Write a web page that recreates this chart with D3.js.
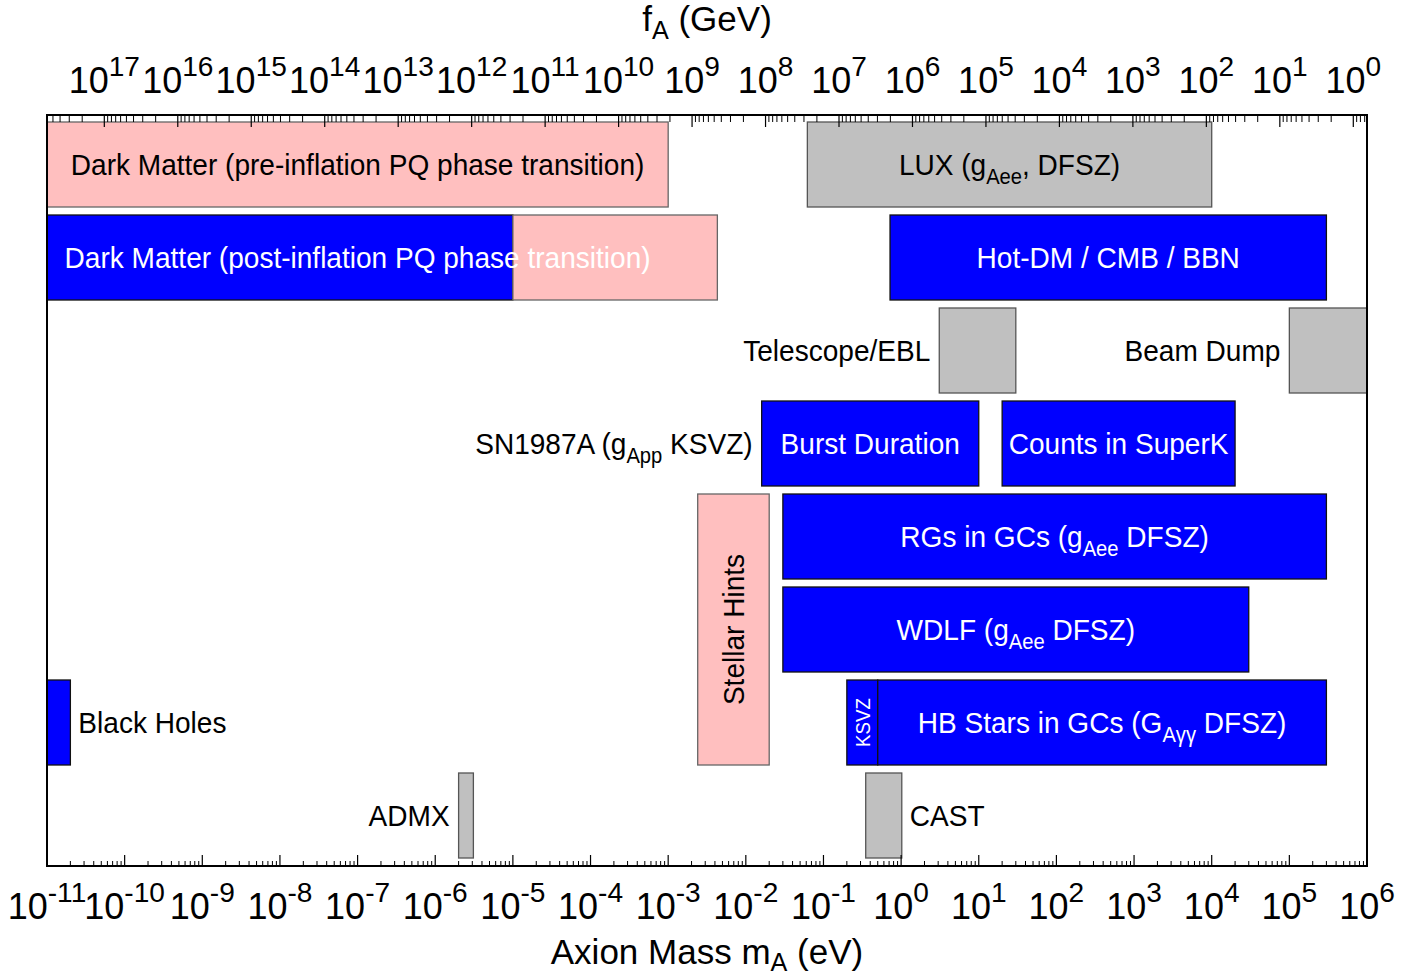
<!DOCTYPE html>
<html>
<head>
<meta charset="utf-8">
<script src="https://cdn.jsdelivr.net/npm/d3@7"></script>
<style>
  html, body { margin: 0; padding: 0; background: #fff; }
  svg { display: block; }
  text { font-family: "Liberation Sans", Arial, Helvetica, sans-serif; }
</style>
</head>
<body>
<svg id="chart" width="1427" height="977"></svg>
<script>
// ---------------- DATA ----------------
const massTickExps = [-11,-10,-9,-8,-7,-6,-5,-4,-3,-2,-1,0,1,2,3,4,5,6];
const faTickExps   = [17,16,15,14,13,12,11,10,9,8,7,6,5,4,3,2,1,0];

// bars: mass range (eV), row (0 = top), rows spanned, fill kind
const barIds   = ["dmPre","lux","dmPostBlue","dmPostPink","hotDM","telescope","beamDump","burst","superK","stellar","rgs","wdlf","blackHoles","ksvz","hbStars","admx","cast"];
const barLo    = [1e-11, 0.062, 1e-11, 1e-5, 0.72, 3.1, 1e5, 0.016, 20, 2.4e-3, 0.03, 0.03, 1e-11, 0.2, 0.5, 2.0e-6, 0.35];
const barHi    = [1e-3, 1e4, 1e-5, 4.3e-3, 3e5, 30, 1e6, 10, 2e4, 0.02, 3e5, 3e4, 2e-11, 0.5, 3e5, 3.1e-6, 1.02];
const barRow   = [0, 0, 1, 1, 1, 2, 2, 3, 3, 4, 4, 5, 6, 6, 6, 7, 7];
const barSpan  = [1, 1, 1, 1, 1, 1, 1, 1, 1, 3, 1, 1, 1, 1, 1, 1, 1];
const barKind  = ["pink","gray","blue","pink","blue","gray","gray","blue","blue","pink","blue","blue","blue","blue","blue","gray","gray"];

// labels: segments [text, "n"|"sub"], row, anchoring mode and reference bar
const labelSegs = [
  [["Dark Matter (pre-inflation PQ phase transition)","n"]],
  [["LUX (g","n"],["Aee","sub"],[", DFSZ)","n"]],
  [["Dark Matter (post-inflation PQ phase transition)","n"]],
  [["Hot-DM / CMB / BBN","n"]],
  [["Telescope/EBL","n"]],
  [["Beam Dump","n"]],
  [["SN1987A (g","n"],["App","sub"],[" KSVZ)","n"]],
  [["Burst Duration","n"]],
  [["Counts in SuperK","n"]],
  [["Stellar Hints","n"]],
  [["RGs in GCs (g","n"],["Aee","sub"],[" DFSZ)","n"]],
  [["WDLF (g","n"],["Aee","sub"],[" DFSZ)","n"]],
  [["Black Holes","n"]],
  [["KSVZ","n"]],
  [["HB Stars in GCs (G","n"],["A\u03B3\u03B3","sub"],[" DFSZ)","n"]],
  [["ADMX","n"]],
  [["CAST","n"]]
];
const labelBar  = ["dmPre","lux","dmPre","hotDM","telescope","beamDump","burst","burst","superK","stellar","rgs","wdlf","blackHoles","ksvz","hbStars","admx","cast"];
const labelRow  = [0, 0, 1, 1, 2, 2, 3, 3, 3, 5, 4, 5, 6, 6, 6, 7, 7];
const labelMode = ["center","center","center","center","before","before","before","center","center","vertical","center","center","after","verticalSmall","center","before","after"];
const labelCol  = ["black","black","white","white","black","black","black","white","white","black","white","white","black","white","white","black","black"];

// ---------------- LAYOUT ----------------
const svg = d3.select("#chart");
const L = 47, R = 1367, T = 115, B = 866;

const x = d3.scaleLog().domain([1e-11, 1e6]).range([L, R]);
const xTop = d3.scaleLog().domain([Math.pow(10,17.78), Math.pow(10,-0.1865)]).range([L, R]);
const y = d3.scaleLinear().domain([0, 8]).range([118, 862]);
const inset = 4;

const fills = { pink: "#ffbfbf", gray: "#c0c0c0", blue: "#0000ff" };
const strokes = { pink: "#666", gray: "#555", blue: "#111" };

const FONT = 30, SX = 0.935;

// ---------------- BARS ----------------
const bars = barIds.map((id, i) => ({ id, lo: barLo[i], hi: barHi[i], row: barRow[i], span: barSpan[i], kind: barKind[i] }));
const byId = {}; bars.forEach(b => byId[b.id] = b);

svg.append("g").selectAll("rect").data(bars).join("rect")
  .attr("x", d => x(d.lo))
  .attr("y", d => y(d.row) + inset)
  .attr("width", d => x(d.hi) - x(d.lo))
  .attr("height", d => y(d.row + d.span) - y(d.row) - 2 * inset)
  .attr("fill", d => fills[d.kind])
  .attr("stroke", d => strokes[d.kind])
  .attr("stroke-width", 1.3);

// ---------------- LABELS ----------------
function addSegs(t, segs, size, shift) {
  const sh = shift === undefined ? 0.28 : shift;
  segs.forEach(([s, k], j) => {
    const ts = t.append("tspan").text(s);
    if (k === "sub") { ts.attr("font-size", size * 0.72).attr("dy", size * sh); }
    else if (j > 0 && segs[j-1][1] === "sub") { ts.attr("dy", -size * sh); }
  });
}
const lg = svg.append("g");
labelSegs.forEach((segs, i) => {
  const b = byId[labelBar[i]];
  const mode = labelMode[i];
  const cy = (y(labelRow[i]) + y(labelRow[i] + 1)) / 2;
  let px, anchor = "middle", rot = 0, size = FONT;
  if (mode === "center") px = (x(b.lo) + x(b.hi)) / 2;
  else if (mode === "before") { px = x(b.lo) - 9; anchor = "end"; }
  else if (mode === "after") { px = x(b.hi) + 8; anchor = "start"; }
  else if (mode === "vertical") { px = (x(b.lo) + x(b.hi)) / 2; rot = -90; }
  else if (mode === "verticalSmall") { px = (x(b.lo) + x(b.hi)) / 2; rot = -90; size = 20; }
  let tf = `translate(${px},${cy}) rotate(${rot}) scale(${SX},1)`;
  const t = lg.append("text")
    .attr("transform", tf)
    .attr("text-anchor", anchor)
    .attr("dy", size * 0.36)
    .attr("font-size", size)
    .attr("fill", labelCol[i]);
  addSegs(t, segs, size);
});

// ---------------- AXES ----------------
svg.append("rect").attr("x", L).attr("y", T).attr("width", R - L).attr("height", B - T)
  .attr("fill", "none").attr("stroke", "#000").attr("stroke-width", 2);

// bottom ticks (inward)
const gB = svg.append("g");
const minorB = [];
for (let e = -11; e < 6; e++) for (let m = 2; m <= 9; m++) minorB.push(m * Math.pow(10, e));
gB.selectAll("line.minor").data(minorB).join("line").attr("class","minor")
  .attr("x1", d => x(d)).attr("x2", d => x(d)).attr("y1", B).attr("y2", B - 5)
  .attr("stroke", "#000").attr("stroke-width", 1);
gB.selectAll("line.major").data(massTickExps).join("line").attr("class","major")
  .attr("x1", d => x(Math.pow(10, d))).attr("x2", d => x(Math.pow(10, d))).attr("y1", B).attr("y2", B - 11)
  .attr("stroke", "#000").attr("stroke-width", 1.2);

// top ticks (inward)
const gT = svg.append("g");
const minorT = [];
for (let e = -1; e < 18; e++) for (let m = 2; m <= 9; m++) {
  const v = m * Math.pow(10, e);
  if (v <= xTop.domain()[0] && v >= xTop.domain()[1]) minorT.push(v);
}
gT.selectAll("line.minor").data(minorT).join("line").attr("class","minor")
  .attr("x1", d => xTop(d)).attr("x2", d => xTop(d)).attr("y1", T).attr("y2", T + 7)
  .attr("stroke", "#000").attr("stroke-width", 1);
gT.selectAll("line.major").data(faTickExps).join("line").attr("class","major")
  .attr("x1", d => xTop(Math.pow(10, d))).attr("x2", d => xTop(Math.pow(10, d))).attr("y1", T).attr("y2", T + 12)
  .attr("stroke", "#000").attr("stroke-width", 1.2);

// tick labels
const TICKF = 36;
function powLabel(g, px, py, e) {
  const t = g.append("text").attr("x", px).attr("y", py).attr("text-anchor", "middle")
    .attr("font-size", TICKF).attr("fill", "#000");
  t.append("tspan").text("10");
  t.append("tspan").text(String(e)).attr("font-size", TICKF * 0.78).attr("dy", -TICKF * 0.46);
}
massTickExps.forEach(e => powLabel(gB, x(Math.pow(10, e)), 919, e));
faTickExps.forEach(e => powLabel(gT, xTop(Math.pow(10, e)), 93, e));

// axis titles
const TITLEF = 35;
const tb = svg.append("text").attr("x", (L + R) / 2).attr("y", 964).attr("text-anchor", "middle")
  .attr("font-size", TITLEF).attr("fill", "#000");
addSegs(tb, [["Axion Mass m","n"],["A","sub"],[" (eV)","n"]], TITLEF, 0.2);
const tt = svg.append("text").attr("x", (L + R) / 2).attr("y", 31).attr("text-anchor", "middle")
  .attr("font-size", TITLEF).attr("fill", "#000");
addSegs(tt, [["f","n"],["A","sub"],[" (GeV)","n"]], TITLEF, 0.24);
</script>
</body>
</html>
